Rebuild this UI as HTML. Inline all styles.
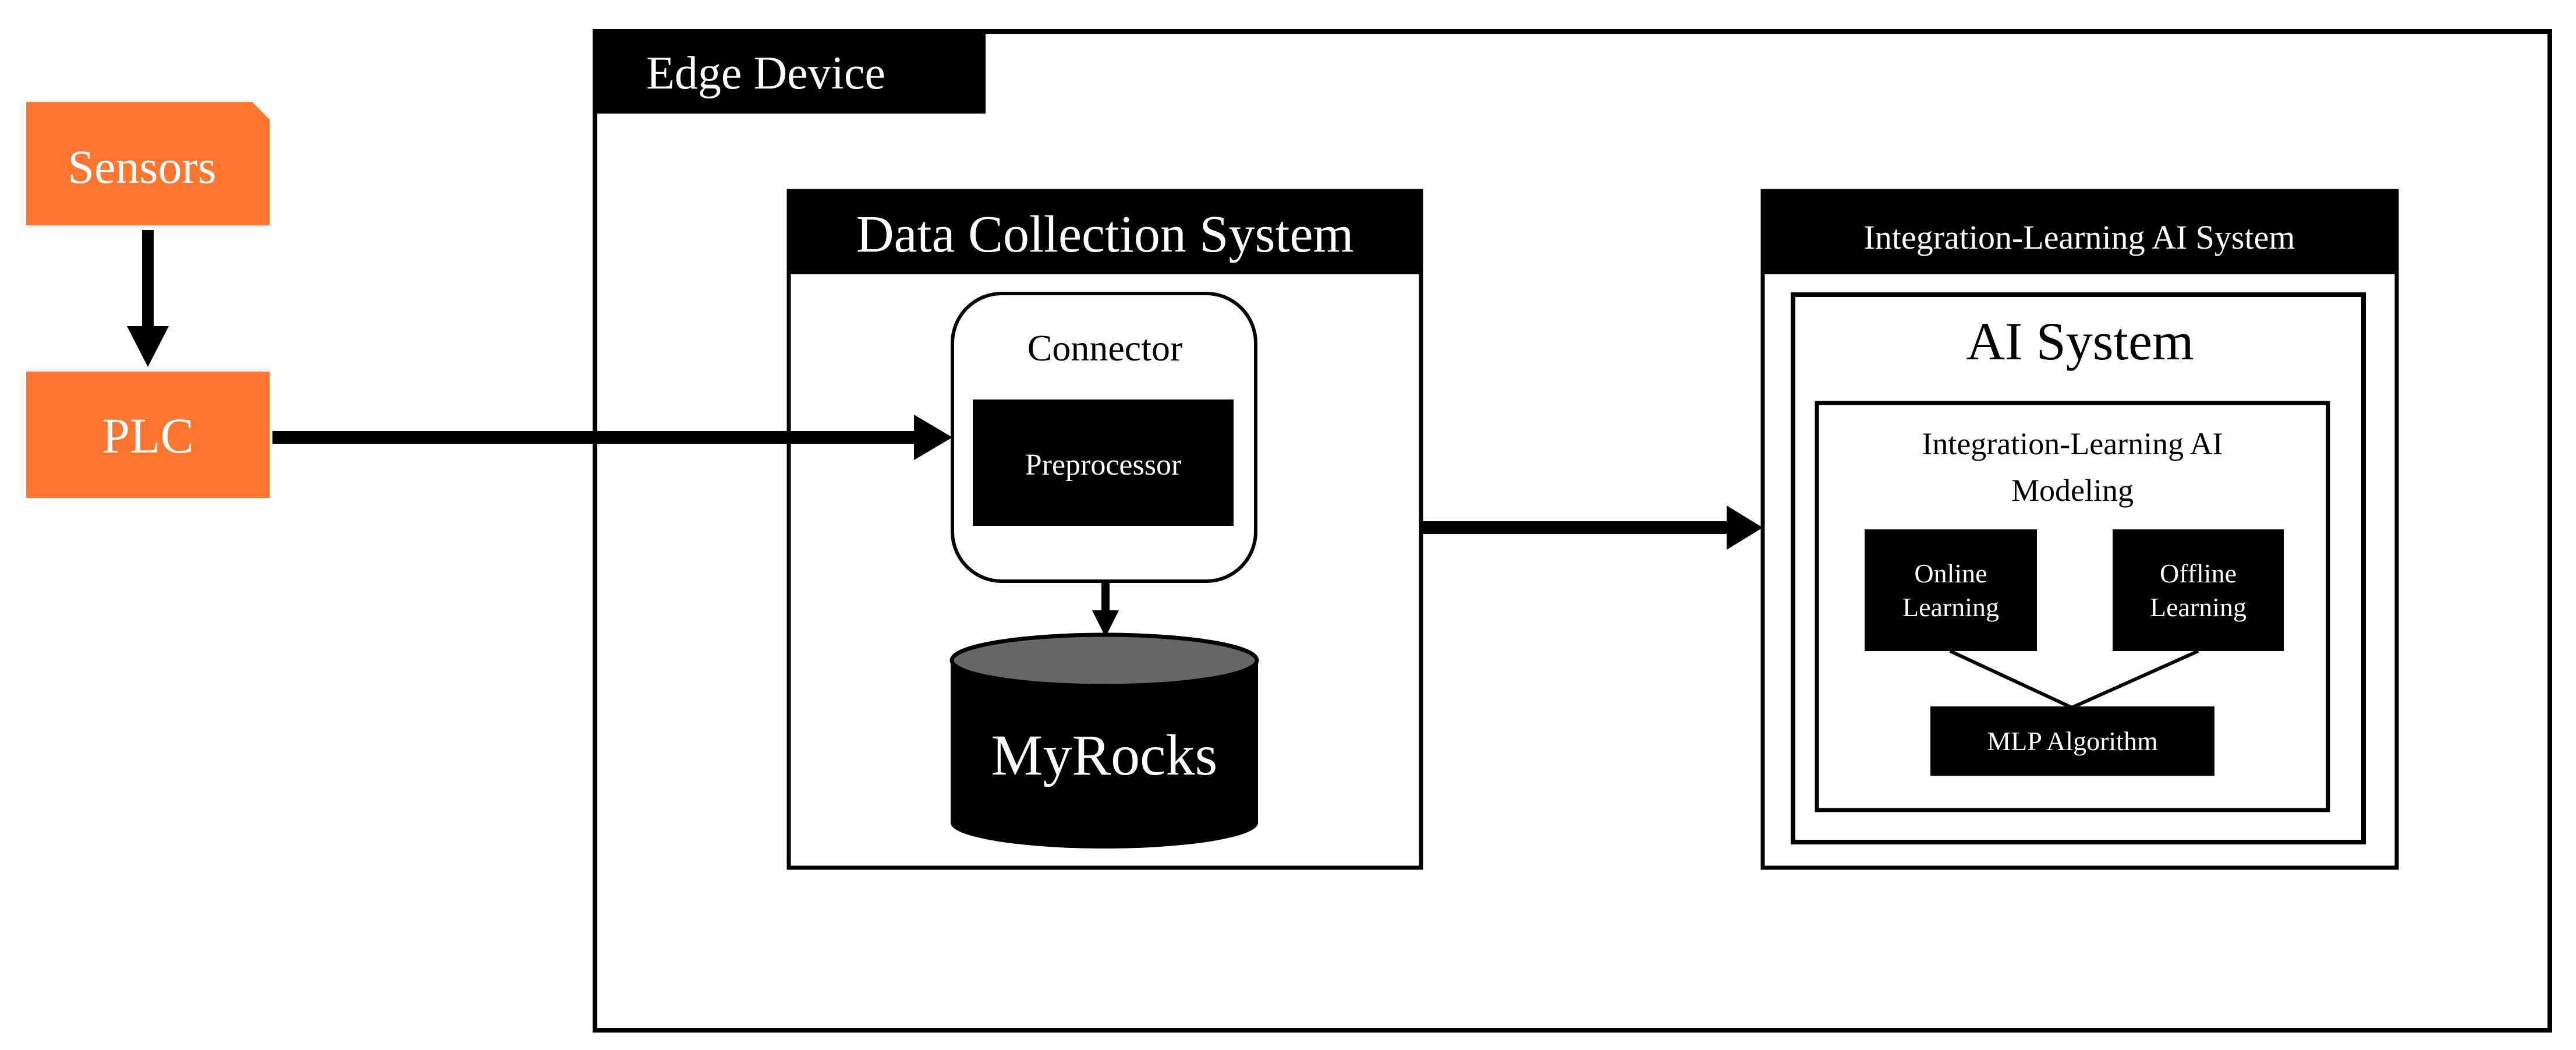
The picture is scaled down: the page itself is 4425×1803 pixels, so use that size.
<!DOCTYPE html>
<html><head><meta charset="utf-8"><style>html,body{margin:0;padding:0;background:#fff}svg{display:block}</style></head>
<body>
<svg width="4425" height="1803" viewBox="0 0 4425 1803" xmlns="http://www.w3.org/2000/svg" font-family="Liberation Serif, serif">
<!-- Edge device -->
<rect x="1022" y="54" width="3358" height="1715" fill="#fff" stroke="#000" stroke-width="8"/>
<rect x="1019" y="51" width="674" height="144" fill="#000"/>
<text x="1110" y="152" font-size="80" fill="#fff">Edge Device</text>

<!-- Sensors / PLC -->
<polygon points="45,175 433,175 463,205 463,387 45,387" fill="#fe7630"/>
<text x="244" y="314" font-size="82" fill="#fff" text-anchor="middle">Sensors</text>
<rect x="45" y="638" width="418" height="217" fill="#fe7630"/>
<text x="254" y="777" font-size="86" fill="#fff" text-anchor="middle">PLC</text>
<rect x="244" y="395" width="20" height="170" fill="#000"/>
<polygon points="218,560 290,560 254,630" fill="#000"/>

<!-- PLC arrow -->
<rect x="468" y="740" width="1110" height="22" fill="#000"/>
<polygon points="1570,712 1570,790 1636,751" fill="#000"/>

<!-- Data Collection System -->
<rect x="1355" y="328" width="1086" height="1162" fill="none" stroke="#000" stroke-width="7"/>
<rect x="1352" y="325" width="1092" height="146" fill="#000"/>
<text x="1898" y="432" font-size="90" fill="#fff" text-anchor="middle">Data Collection System</text>

<rect x="1636" y="504" width="521" height="494" rx="85" ry="85" fill="#fff" stroke="#000" stroke-width="6"/>
<text x="1898" y="619" font-size="64" fill="#000" text-anchor="middle">Connector</text>
<rect x="1671" y="686" width="448" height="217" fill="#000"/>
<text x="1895" y="815" font-size="52" fill="#fff" text-anchor="middle">Preprocessor</text>

<!-- cylinder -->
<path d="M1633,1134 L1633,1413 A264,44 0 0 0 2161,1413 L2161,1134 Z" fill="#000"/>
<ellipse cx="1897" cy="1134" rx="262" ry="44" fill="#666" stroke="#000" stroke-width="7"/>
<text x="1897" y="1330" font-size="100" fill="#fff" text-anchor="middle">MyRocks</text>

<rect x="1892" y="998" width="14" height="55" fill="#000"/>
<polygon points="1876,1048 1922,1048 1899,1094" fill="#000"/>

<!-- arrow to AI -->
<rect x="2444" y="895" width="530" height="22" fill="#000"/>
<polygon points="2966,868 2966,944 3028,906" fill="#000"/>

<!-- Integration-Learning AI System -->
<rect x="3028" y="328" width="1089" height="1162" fill="none" stroke="#000" stroke-width="7"/>
<rect x="3025" y="325" width="1095" height="146" fill="#000"/>
<text x="3572" y="427" font-size="58" fill="#fff" text-anchor="middle">Integration-Learning  AI  System</text>

<rect x="3080" y="506" width="980" height="940" fill="none" stroke="#000" stroke-width="8"/>
<text x="3573" y="617" font-size="92" fill="#000" text-anchor="middle">AI System</text>

<rect x="3121" y="692" width="878" height="699" fill="none" stroke="#000" stroke-width="7"/>
<text x="3560" y="780" font-size="54" fill="#000" text-anchor="middle">Integration-Learning  AI</text>
<text x="3560" y="860" font-size="54" fill="#000" text-anchor="middle">Modeling</text>

<rect x="3203" y="909" width="296" height="209" fill="#000"/>
<text x="3351" y="1000" font-size="46" fill="#fff" text-anchor="middle">Online</text>
<text x="3351" y="1058" font-size="46" fill="#fff" text-anchor="middle">Learning</text>
<rect x="3629" y="909" width="294" height="209" fill="#000"/>
<text x="3776" y="1000" font-size="46" fill="#fff" text-anchor="middle">Offline</text>
<text x="3776" y="1058" font-size="46" fill="#fff" text-anchor="middle">Learning</text>

<line x1="3350" y1="1118" x2="3559" y2="1215" stroke="#000" stroke-width="6"/>
<line x1="3776" y1="1118" x2="3559" y2="1215" stroke="#000" stroke-width="6"/>

<rect x="3316" y="1213" width="488" height="119" fill="#000"/>
<text x="3560" y="1288" font-size="46" fill="#fff" text-anchor="middle">MLP  Algorithm</text>
</svg>
</body></html>
